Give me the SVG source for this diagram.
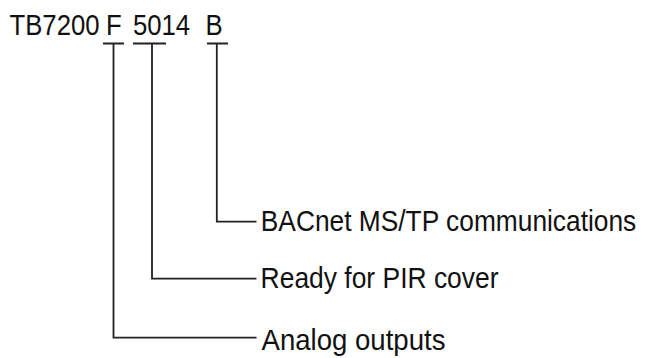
<svg xmlns="http://www.w3.org/2000/svg" width="645" height="358" viewBox="0 0 645 358">
<style>
.t{font-family:"Liberation Sans",Arial,sans-serif;fill:#111}
.title{font-size:30px}
.lbl{font-size:30px}
.ln{fill:none;stroke:#222;stroke-width:1.8}
</style>
<rect width="645" height="358" fill="#fff"/>
<g id="code">
<text class="t title" transform="translate(9.5 34.5) scale(0.857 1)">TB7200</text>
<text class="t title" transform="translate(106 34.5) scale(0.857 1)">F</text>
<text class="t title" transform="translate(133 34.5) scale(0.857 1)">5014</text>
<text class="t title" transform="translate(205.5 34.5) scale(0.857 1)">B</text>
</g>
<g id="label-bacnet"><text class="t lbl" transform="translate(260.8 230.5) scale(0.8775 1)">BACnet MS/TP communications</text></g>
<g id="label-pir"><text class="t lbl" transform="translate(260.6 287.5) scale(0.881 1)">Ready for PIR cover</text></g>
<g id="label-analog"><text class="t lbl" transform="translate(261.5 349.8) scale(0.9195 1)">Analog outputs</text></g>
<g id="connectors">
<path class="ln" d="M103 43.5H124M113.5 43.5V337.7H256.5"/>
<path class="ln" d="M133 43.5H166M152 43.5V278.7H256.5"/>
<path class="ln" d="M207 43.5H228M216.8 43.5V221.7H256.5"/>
</g>
</svg>
